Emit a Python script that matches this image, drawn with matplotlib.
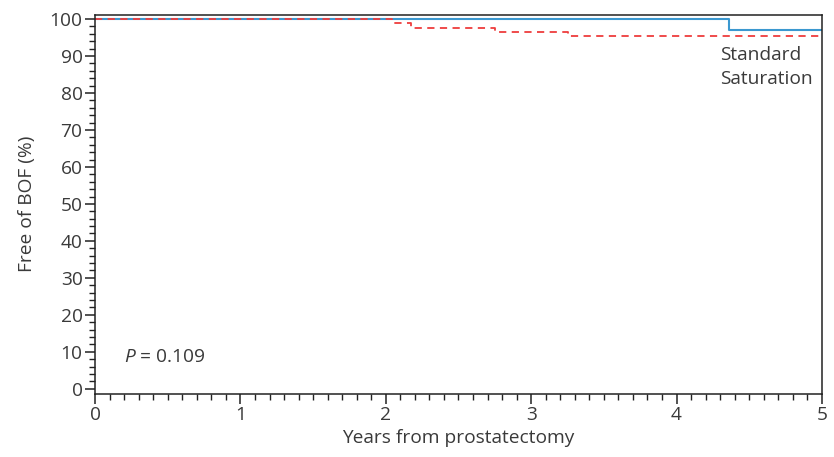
import numpy as np
import matplotlib
matplotlib.use('Agg')
import matplotlib.pyplot as plt
from matplotlib.ticker import MultipleLocator

plt.rcParams['font.family'] = ['Open Sans', 'DejaVu Sans']
plt.rcParams['mathtext.fontset'] = 'custom'
plt.rcParams['mathtext.it'] = 'Open Sans:italic'
plt.rcParams['mathtext.rm'] = 'Open Sans'

# step curves: times where survival changes and the level after each step
std_times = [0, 4.36, 5]
std_surv = [100, 97.0, 97.0]
sat_times = [0, 2.04, 2.175, 2.75, 3.25, 5]
sat_surv = [100, 98.9, 97.6, 96.5, 95.5, 95.5]

labels = ['Standard', 'Saturation']
x_ticks = [0, 1, 2, 3, 4, 5]
y_ticks = list(range(0, 101, 10))

txt = '#3a3a3a'
fs = 13.8
fig = plt.figure(figsize=(8.34, 4.57), dpi=100)
ax = fig.add_axes([0.114, 0.138, 0.8715, 0.830])

ax.step(std_times, std_surv, where='post', color='#3b98d0', lw=1.5)
ax.step(sat_times, sat_surv, where='post', color='#ee3d3d', lw=1.3,
        linestyle=(0, (4, 3)))

ax.set_xlim(0, 5)
ax.set_ylim(-1.4, 101.2)
ax.set_xticks(x_ticks)
ax.set_yticks(y_ticks)
ax.xaxis.set_minor_locator(MultipleLocator(0.1))
ax.yaxis.set_minor_locator(MultipleLocator(2))
ax.tick_params(which='major', length=7, width=1.1, colors='#222222',
               labelcolor=txt, labelsize=fs, pad=2)
ax.tick_params(which='minor', length=4, width=1.0, colors='#222222')
for s in ax.spines.values():
    s.set_color('#222222')
    s.set_linewidth(1.1)

ax.set_xlabel('Years from prostatectomy', fontsize=fs, color=txt, labelpad=3)
ax.set_ylabel('Free of BOF (%)', fontsize=fs, color=txt, labelpad=10)

ax.text(4.30, 90.3, labels[0], fontsize=fs, color=txt, va='center')
ax.text(4.30, 83.8, labels[1], fontsize=fs, color=txt, va='center')
ax.text(0.2, 8.6, r'$P$ = 0.109', fontsize=fs, color=txt, va='center')

fig.savefig('out.png', dpi=100)
